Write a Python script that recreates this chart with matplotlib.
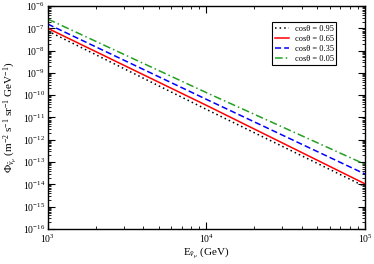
import matplotlib
matplotlib.use("Agg")
import matplotlib.pyplot as plt
import numpy as np
from matplotlib.ticker import LogLocator, NullFormatter

plt.rcParams['font.family'] = ['Liberation Serif', 'DejaVu Serif']
plt.rcParams['mathtext.fontset'] = 'custom'
plt.rcParams['mathtext.rm'] = 'Liberation Serif'
plt.rcParams['mathtext.it'] = 'Liberation Serif:italic'

energy = [1e3, 1e4, 1e5]
labels = ["cosθ = 0.95", "cosθ = 0.65", "cosθ = 0.35", "cosθ = 0.05"]
flux_095 = [7.6e-8, 2.3e-11, 7.9e-15]
flux_065 = [1.0e-7, 3.5e-11, 1.05e-14]
flux_035 = [1.55e-7, 6.5e-11, 2.9e-14]
flux_005 = [2.6e-7, 1.3e-10, 7.9e-14]

fig = plt.figure(figsize=(3.74, 2.64), dpi=100)
ax = fig.add_axes([0.128, 0.133, 0.848, 0.844])

ax.plot(energy, flux_095, color='black', linestyle=(0, (1, 2)), lw=1.1, label=labels[0])
ax.plot(energy, flux_065, color='red', linestyle='-', lw=1.1, label=labels[1])
ax.plot(energy, flux_035, color='blue', linestyle=(0, (4, 2)), lw=1.1, label=labels[2])
ax.plot(energy, flux_005, color='#22a022', linestyle=(0, (5, 2, 1, 2)), lw=1.1, label=labels[3])

ax.set_xscale('log')
ax.set_yscale('log')
ax.set_xlim(1e3, 1e5)
ax.set_ylim(1e-16, 1e-6)

ax.yaxis.set_major_locator(LogLocator(base=10, numticks=20))
ax.yaxis.set_minor_locator(LogLocator(base=10, subs=np.arange(2, 10), numticks=100))
ax.yaxis.set_minor_formatter(NullFormatter())
ax.xaxis.set_minor_locator(LogLocator(base=10, subs=np.arange(2, 10), numticks=100))
ax.xaxis.set_minor_formatter(NullFormatter())

ax.tick_params(which='both', direction='in', top=True, right=True, labelsize=7)
ax.tick_params(which='major', length=5, width=0.8)
ax.tick_params(which='minor', length=2.5, width=0.6)
ax.tick_params(axis='x', pad=3)
ax.tick_params(axis='y', pad=2)

for s in ax.spines.values():
    s.set_linewidth(1.0)

ax.set_xlabel(r'E$_{\bar{\nu}_\mu}$ (GeV)', fontsize=8, labelpad=0)
ax.set_ylabel(r'$\Phi_{\bar{\nu}_\mu}$ (m$^{-2}$ s$^{-1}$ sr$^{-1}$ GeV$^{-1}$)', fontsize=8, labelpad=2)

leg = ax.legend(loc='upper right', bbox_to_anchor=(0.909, 0.928), fontsize=6,
                frameon=True, fancybox=False, edgecolor='black', framealpha=1,
                handlelength=1.7, handletextpad=0.7, borderpad=0.3, labelspacing=0.25,
                borderaxespad=0)
leg.get_frame().set_linewidth(0.8)

fig.savefig('out.png', dpi=100)
